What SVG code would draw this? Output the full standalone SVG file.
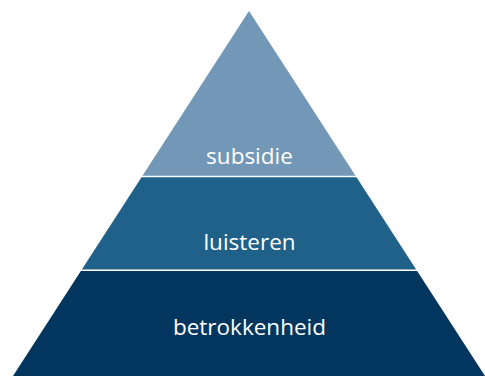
<svg xmlns="http://www.w3.org/2000/svg" width="485" height="376" viewBox="0 0 485 376">
  <style>
    .lbl { font-family: "Open Sans", "DejaVu Sans", sans-serif; font-size: 22.5px; fill: #ffffff; text-anchor: middle; }
    .sep { stroke: #ffffff; stroke-width: 1.6; }
  </style>
  <rect width="485" height="376" fill="#ffffff"/>
  <g id="tier-betrokkenheid">
    <polygon points="81.5,270 416.5,270 485,376 13,376" fill="#03365e"/>
    <text class="lbl" x="249.5" y="335">betrokkenheid</text>
  </g>
  <g id="tier-luisteren">
    <polygon points="142.3,176 355.7,176 416.5,270 81.5,270" fill="#20618a"/>
    <text class="lbl" x="249.5" y="250">luisteren</text>
  </g>
  <g id="tier-subsidie">
    <polygon points="249,11 355.7,176 142.3,176" fill="#7397b6"/>
    <text class="lbl" x="249.5" y="164">subsidie</text>
  </g>
  <g id="connectors">
    <line class="sep" x1="0" y1="176.5" x2="485" y2="176.5"/>
    <line class="sep" x1="0" y1="270.2" x2="485" y2="270.2"/>
  </g>
</svg>
